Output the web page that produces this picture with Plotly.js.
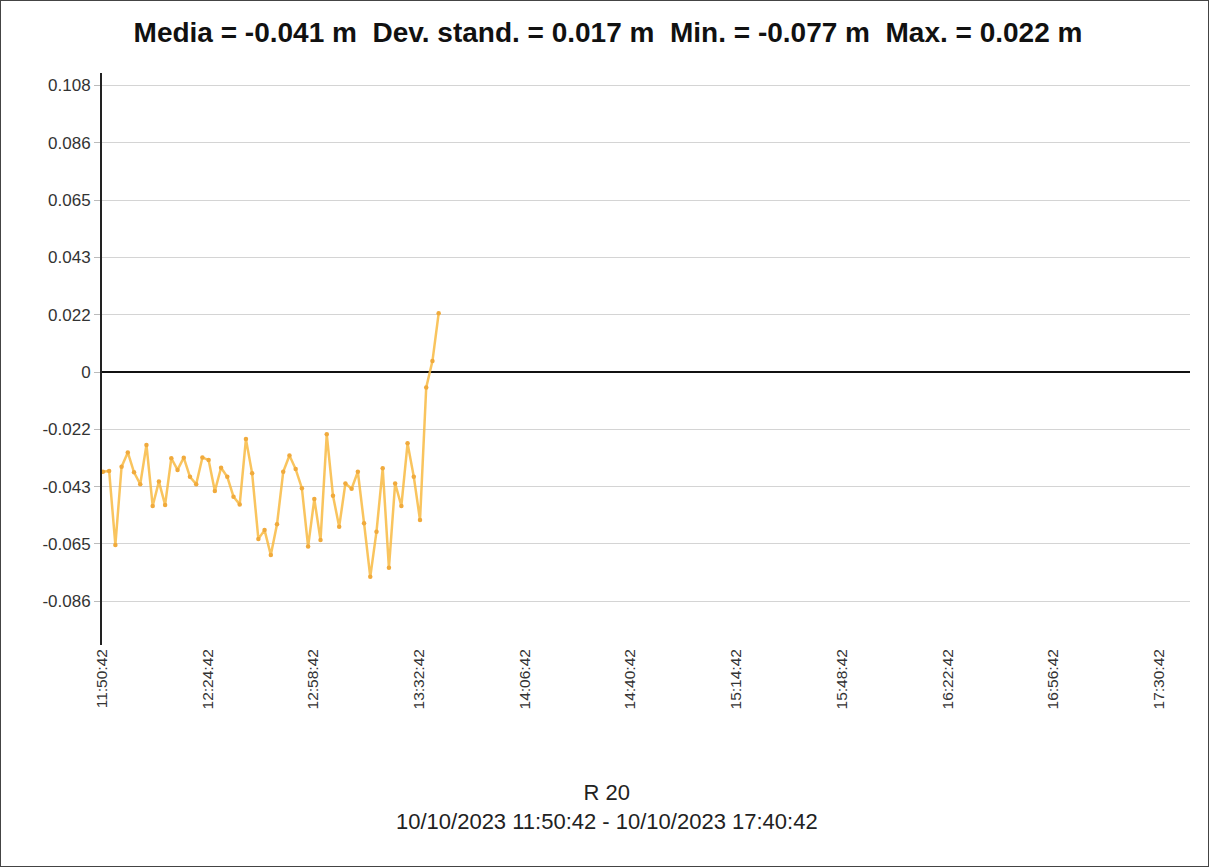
<!DOCTYPE html>
<html>
<head>
<meta charset="utf-8">
<script src="https://cdn.plot.ly/plotly-3.0.1.min.js"></script>
<style>
  html, body { margin: 0; padding: 0; background: #fff; }
  #wrap { position: relative; width: 1209px; height: 867px; }
  #chart { position: absolute; left: 0; top: 0; width: 1209px; height: 867px; }
  #frame { position: absolute; left: 0; top: 0; width: 1209px; height: 867px; box-sizing: border-box; border: 1px solid #444; pointer-events: none; }
</style>
</head>
<body>
<div id="wrap"><div id="chart"></div><div id="frame"></div></div>
<script>
// ---- data ----
const times = [
  '2023-10-10 11:51:00','2023-10-10 11:53:00','2023-10-10 11:55:00','2023-10-10 11:57:00','2023-10-10 11:59:00',
  '2023-10-10 12:01:00','2023-10-10 12:03:00','2023-10-10 12:05:00','2023-10-10 12:07:00','2023-10-10 12:09:00',
  '2023-10-10 12:11:00','2023-10-10 12:13:00','2023-10-10 12:15:00','2023-10-10 12:17:00','2023-10-10 12:19:00',
  '2023-10-10 12:21:00','2023-10-10 12:23:00','2023-10-10 12:25:00','2023-10-10 12:27:00','2023-10-10 12:29:00',
  '2023-10-10 12:31:00','2023-10-10 12:33:00','2023-10-10 12:35:00','2023-10-10 12:37:00','2023-10-10 12:39:00',
  '2023-10-10 12:41:00','2023-10-10 12:43:00','2023-10-10 12:45:00','2023-10-10 12:47:00','2023-10-10 12:49:00',
  '2023-10-10 12:51:00','2023-10-10 12:53:00','2023-10-10 12:55:00','2023-10-10 12:57:00','2023-10-10 12:59:00',
  '2023-10-10 13:01:00','2023-10-10 13:03:00','2023-10-10 13:05:00','2023-10-10 13:07:00','2023-10-10 13:09:00',
  '2023-10-10 13:11:00','2023-10-10 13:13:00','2023-10-10 13:15:00','2023-10-10 13:17:00','2023-10-10 13:19:00',
  '2023-10-10 13:21:00','2023-10-10 13:23:00','2023-10-10 13:25:00','2023-10-10 13:27:00','2023-10-10 13:29:00',
  '2023-10-10 13:31:00','2023-10-10 13:33:00','2023-10-10 13:35:00','2023-10-10 13:37:00','2023-10-10 13:39:00'
];
const values = [
  -0.0376, -0.0373, -0.0652, -0.0357, -0.0303, -0.0378, -0.0423, -0.0275, -0.0505, -0.0413,
  -0.0501, -0.0325, -0.0369, -0.0323, -0.0395, -0.0423, -0.0322, -0.0332, -0.0449, -0.0361,
  -0.0395, -0.0470, -0.0499, -0.0253, -0.0382, -0.0629, -0.0596, -0.0690, -0.0574, -0.0376,
  -0.0315, -0.0366, -0.0438, -0.0658, -0.0479, -0.0633, -0.0235, -0.0466, -0.0583, -0.0420,
  -0.0440, -0.0376, -0.0570, -0.0772, -0.0602, -0.0363, -0.0738, -0.0420, -0.0505, -0.0269,
  -0.0395, -0.0558, -0.0058, 0.0041, 0.0221
];
const xTickVals = [
  '2023-10-10 11:50:42','2023-10-10 12:24:42','2023-10-10 12:58:42','2023-10-10 13:32:42',
  '2023-10-10 14:06:42','2023-10-10 14:40:42','2023-10-10 15:14:42','2023-10-10 15:48:42',
  '2023-10-10 16:22:42','2023-10-10 16:56:42','2023-10-10 17:30:42'
];
const xTickText = ['11:50:42','12:24:42','12:58:42','13:32:42','14:06:42','14:40:42','15:14:42','15:48:42','16:22:42','16:56:42','17:30:42'];
const yTickVals = [0.108, 0.0864, 0.0648, 0.0432, 0.0216, 0, -0.0216, -0.0432, -0.0648, -0.0864];
const yTickText = ['0.108','0.086','0.065','0.043','0.022','0','-0.022','-0.043','-0.065','-0.086'];
const xRange = ['2023-10-10 11:50:42', '2023-10-10 17:40:42'];
const yRange = [-0.1029, 0.1127];
const titleText = 'Media = -0.041 m  Dev. stand. = 0.017 m  Min. = -0.077 m  Max. = 0.022 m';
const xTitleText = 'R 20<br>10/10/2023 11:50:42 - 10/10/2023 17:40:42';

const trace = {
  x: times, y: values, type: 'scatter', mode: 'lines+markers',
  line: {color: 'rgba(248,186,66,0.85)', width: 2.5},
  marker: {color: '#F0AA3C', size: 4.5},
  hoverinfo: 'x+y', showlegend: false
};

const FONT = 'Arial, "Liberation Sans", sans-serif';
const layout = {
  width: 1209, height: 867,
  margin: {l: 102, r: 19, t: 73, b: 222},
  paper_bgcolor: '#ffffff', plot_bgcolor: '#ffffff',
  font: {family: FONT, color: '#222'},
  title: {text: '<b>' + titleText + '</b>', font: {family: FONT, size: 28, color: '#111'},
          x: 608/1209, xanchor: 'center', y: 1 - 32/867, yanchor: 'middle', yref: 'container'},
  xaxis: {
    type: 'date', range: xRange, tickmode: 'array', tickvals: xTickVals, ticktext: xTickText,
    tickangle: -90, tickfont: {family: FONT, size: 15.5, color: '#333'},
    showgrid: false, zeroline: false, showline: false, ticks: '', ticklen: 0
  },
  yaxis: {
    range: yRange, tickmode: 'array', tickvals: yTickVals, ticktext: yTickText,
    tickfont: {family: FONT, size: 17, color: '#333'},
    showgrid: true, gridcolor: '#d4d4d4', gridwidth: 1,
    zeroline: true, zerolinecolor: '#111', zerolinewidth: 1.5,
    showline: true, linecolor: '#222', linewidth: 2,
    ticks: 'outside', ticklen: 6, tickcolor: '#bbb', tickwidth: 1
  },
  annotations: [{
    text: xTitleText, xref: 'paper', yref: 'paper', x: (607 - 102) / 1088, y: (645 - 807) / 572,
    xanchor: 'center', yanchor: 'middle', showarrow: false, align: 'center',
    font: {family: FONT, size: 22, color: '#222'}
  }]
};

Plotly.newPlot('chart', [trace], layout, {staticPlot: true, displayModeBar: false});
</script>
</body>
</html>
